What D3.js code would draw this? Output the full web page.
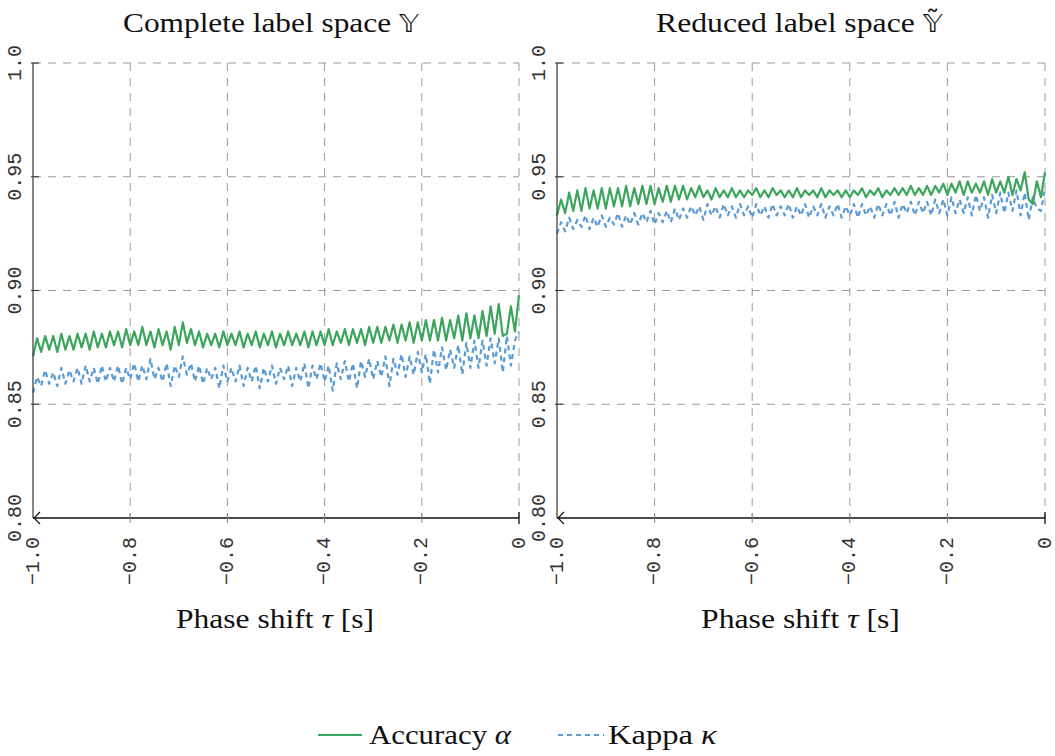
<!DOCTYPE html>
<html>
<head>
<meta charset="utf-8">
<script src="https://cdn.jsdelivr.net/npm/d3@7"></script>
<style>
  html, body { margin: 0; padding: 0; background: #fff; }
  svg { display: block; }
</style>
</head>
<body>
<svg id="chart" width="1055" height="756"></svg>
<script>
// ---------------- data ----------------
const panelTitles = ["Complete label space ", "Reduced label space "];
const xTicks = [-1.0, -0.8, -0.6, -0.4, -0.2, 0];
const xTickLabels = ["\u22121.0", "\u22120.8", "\u22120.6", "\u22120.4", "\u22120.2", "0"];
const yTicks = [0.80, 0.85, 0.90, 0.95, 1.0];
const yTickLabels = ["0.80", "0.85", "0.90", "0.95", "1.0"];
const seriesNames = ["Accuracy", "Kappa"];
// phase shift sampling grid (121 steps from -1 s to 0 s)
const phaseShift = d3.range(121).map(i => -1 + i / 120);

const accuracyComplete = [
  0.871, 0.879, 0.873, 0.880, 0.874, 0.880, 0.873, 0.881, 0.874, 0.880,
  0.874, 0.881, 0.875, 0.881, 0.874, 0.882, 0.875, 0.881, 0.875, 0.882,
  0.876, 0.882, 0.875, 0.883, 0.876, 0.882, 0.876, 0.884, 0.876, 0.882,
  0.875, 0.883, 0.876, 0.882, 0.874, 0.884, 0.876, 0.886, 0.877, 0.883,
  0.876, 0.882, 0.875, 0.881, 0.876, 0.881, 0.875, 0.882, 0.876, 0.881,
  0.876, 0.882, 0.875, 0.881, 0.876, 0.882, 0.875, 0.881, 0.876, 0.882,
  0.875, 0.881, 0.876, 0.882, 0.876, 0.881, 0.876, 0.882, 0.875, 0.882,
  0.876, 0.882, 0.876, 0.883, 0.876, 0.882, 0.877, 0.883, 0.876, 0.883,
  0.877, 0.883, 0.876, 0.884, 0.877, 0.884, 0.877, 0.884, 0.878, 0.885,
  0.877, 0.885, 0.878, 0.886, 0.877, 0.886, 0.878, 0.887, 0.878, 0.887,
  0.878, 0.888, 0.878, 0.887, 0.879, 0.889, 0.878, 0.890, 0.879, 0.889,
  0.879, 0.891, 0.880, 0.893, 0.881, 0.894, 0.880, 0.881, 0.893, 0.882, 0.898
];
const kappaComplete = [
  0.855, 0.862, 0.858, 0.865, 0.859, 0.864, 0.858, 0.866, 0.859, 0.865,
  0.860, 0.866, 0.859, 0.867, 0.860, 0.866, 0.859, 0.867, 0.860, 0.866,
  0.860, 0.867, 0.859, 0.866, 0.861, 0.868, 0.860, 0.867, 0.861, 0.870,
  0.861, 0.866, 0.860, 0.868, 0.858, 0.867, 0.862, 0.871, 0.863, 0.868,
  0.860, 0.867, 0.859, 0.866, 0.861, 0.866, 0.857, 0.867, 0.860, 0.866,
  0.860, 0.867, 0.858, 0.866, 0.860, 0.867, 0.857, 0.866, 0.860, 0.867,
  0.859, 0.866, 0.861, 0.867, 0.858, 0.866, 0.860, 0.868, 0.857, 0.867,
  0.861, 0.868, 0.860, 0.867, 0.856, 0.868, 0.861, 0.869, 0.860, 0.868,
  0.857, 0.869, 0.862, 0.870, 0.861, 0.869, 0.862, 0.871, 0.858, 0.870,
  0.863, 0.872, 0.862, 0.871, 0.863, 0.873, 0.864, 0.872, 0.859, 0.874,
  0.864, 0.875, 0.865, 0.874, 0.866, 0.876, 0.863, 0.877, 0.866, 0.878,
  0.866, 0.878, 0.867, 0.879, 0.868, 0.879, 0.864, 0.880, 0.867, 0.878, 0.882
];
const accuracyReduced = [
  0.933, 0.940, 0.934, 0.943, 0.935, 0.944, 0.935, 0.945, 0.936, 0.944,
  0.936, 0.945, 0.936, 0.945, 0.937, 0.945, 0.937, 0.946, 0.937, 0.945,
  0.938, 0.946, 0.938, 0.946, 0.938, 0.945, 0.939, 0.946, 0.939, 0.946,
  0.940, 0.946, 0.940, 0.945, 0.941, 0.946, 0.941, 0.944, 0.940, 0.945,
  0.941, 0.944, 0.941, 0.945, 0.941, 0.944, 0.941, 0.944, 0.942, 0.945,
  0.941, 0.944, 0.941, 0.945, 0.942, 0.944, 0.941, 0.944, 0.941, 0.945,
  0.941, 0.944, 0.942, 0.944, 0.941, 0.945, 0.941, 0.944, 0.942, 0.944,
  0.941, 0.944, 0.941, 0.944, 0.942, 0.945, 0.941, 0.944, 0.942, 0.945,
  0.941, 0.944, 0.942, 0.945, 0.942, 0.945, 0.942, 0.946, 0.942, 0.945,
  0.942, 0.946, 0.942, 0.946, 0.943, 0.947, 0.942, 0.947, 0.943, 0.948,
  0.942, 0.948, 0.943, 0.947, 0.943, 0.948, 0.942, 0.949, 0.943, 0.948,
  0.943, 0.950, 0.942, 0.949, 0.944, 0.952, 0.940, 0.938, 0.948, 0.941, 0.952
];
const kappaReduced = [
  0.925, 0.930, 0.926, 0.932, 0.927, 0.931, 0.928, 0.933, 0.927, 0.932,
  0.928, 0.933, 0.928, 0.932, 0.929, 0.934, 0.928, 0.933, 0.929, 0.934,
  0.929, 0.934, 0.930, 0.935, 0.929, 0.934, 0.930, 0.935, 0.930, 0.936,
  0.931, 0.936, 0.932, 0.937, 0.933, 0.937, 0.931, 0.938, 0.933, 0.937,
  0.932, 0.938, 0.933, 0.937, 0.932, 0.938, 0.933, 0.937, 0.932, 0.938,
  0.933, 0.937, 0.932, 0.938, 0.933, 0.937, 0.933, 0.938, 0.932, 0.937,
  0.933, 0.938, 0.932, 0.937, 0.933, 0.938, 0.932, 0.937, 0.933, 0.938,
  0.932, 0.937, 0.933, 0.938, 0.932, 0.938, 0.933, 0.937, 0.932, 0.938,
  0.933, 0.938, 0.933, 0.939, 0.932, 0.938, 0.934, 0.939, 0.933, 0.939,
  0.934, 0.939, 0.933, 0.940, 0.934, 0.940, 0.933, 0.941, 0.934, 0.940,
  0.934, 0.941, 0.933, 0.942, 0.935, 0.941, 0.932, 0.942, 0.934, 0.943,
  0.934, 0.943, 0.935, 0.944, 0.933, 0.943, 0.931, 0.941, 0.936, 0.935, 0.945
];

// ---------------- drawing ----------------
const svg = d3.select("#chart");
const GREEN = "#3ba55c", BLUE = "#5b9bd5";
const MONO = "'Liberation Mono', 'DejaVu Sans Mono', monospace";
const SERIF = "'Liberation Serif', 'DejaVu Serif', serif";

// stretch a text element horizontally so that it spans [left, right]
function fitText(sel, left, right) {
  const bb = sel.node().getBBox();
  const s = (right - left) / bb.width;
  sel.attr("transform", `translate(${left},0) scale(${s},1) translate(${-bb.x},0)`);
}

const panels = [
  { x0: 33, x1: 519, title: panelTitles[0], tilde: false, acc: accuracyComplete, kap: kappaComplete,
    tL: 123, tR: 420, xlL: 176, xlR: 374 },
  { x0: 557, x1: 1045, title: panelTitles[1], tilde: true, acc: accuracyReduced, kap: kappaReduced,
    tL: 656, tR: 944, xlL: 701, xlR: 900 }
];
const yTop = 63, yBot = 518;

panels.forEach(p => {
  const x = d3.scaleLinear().domain([-1, 0]).range([p.x0, p.x1]);
  const y = d3.scaleLinear().domain([0.8, 1.0]).range([yBot, yTop]);
  const g = svg.append("g");

  // grid
  g.selectAll(".hg").data(yTicks.slice(1)).join("line")
    .attr("x1", p.x0).attr("x2", p.x1)
    .attr("y1", d => y(d)).attr("y2", d => y(d))
    .attr("stroke", "#9a9a9a").attr("stroke-width", 1)
    .attr("stroke-dasharray", "8,7");
  g.selectAll(".vg").data(xTicks.slice(1)).join("line")
    .attr("x1", d => x(d)).attr("x2", d => x(d))
    .attr("y1", yTop).attr("y2", yBot)
    .attr("stroke", "#9a9a9a").attr("stroke-width", 1)
    .attr("stroke-dasharray", "8,7");

  // series
  const line = d3.line().x((d, i) => x(phaseShift[i])).y(d => y(d));
  g.append("path").datum(p.kap).attr("d", line)
    .attr("fill", "none").attr("stroke", BLUE).attr("stroke-width", 2.2)
    .attr("stroke-dasharray", "5,4").attr("stroke-linejoin", "round");
  g.append("path").datum(p.acc).attr("d", line)
    .attr("fill", "none").attr("stroke", GREEN).attr("stroke-width", 2.2)
    .attr("stroke-linejoin", "round");

  // y axis
  g.append("line").attr("x1", p.x0).attr("x2", p.x0).attr("y1", yTop).attr("y2", yBot)
    .attr("stroke", "#444").attr("stroke-width", 1.3);
  g.selectAll(".yt").data(yTicks.slice(1)).join("line")
    .attr("x1", p.x0 - 2).attr("x2", p.x0 + 6)
    .attr("y1", d => y(d)).attr("y2", d => y(d))
    .attr("stroke", "#444").attr("stroke-width", 1.2);
  g.selectAll(".yl").data(yTicks).join("text")
    .attr("transform", d => `translate(${p.x0 - 18},${y(d)}) rotate(-90)`)
    .attr("text-anchor", "middle").attr("dominant-baseline", "central")
    .attr("font-family", MONO).attr("font-size", 20).attr("fill", "#333")
    .text((d, i) => yTickLabels[i]);

  // x axis
  g.append("line").attr("x1", p.x0).attr("x2", p.x1).attr("y1", yBot).attr("y2", yBot)
    .attr("stroke", "#111").attr("stroke-width", 1.3);
  g.append("path")
    .attr("d", `M${p.x0 + 7},${yBot - 6} L${p.x0 + 1},${yBot} L${p.x0 + 7},${yBot + 6}`)
    .attr("fill", "none").attr("stroke", "#111").attr("stroke-width", 1.2);
  g.append("line").attr("x1", p.x1).attr("x2", p.x1).attr("y1", yBot - 6).attr("y2", yBot + 6)
    .attr("stroke", "#111").attr("stroke-width", 1.3);
  g.selectAll(".xt").data(xTicks.slice(1, -1)).join("line")
    .attr("x1", d => x(d)).attr("x2", d => x(d))
    .attr("y1", yBot - 5).attr("y2", yBot + 5)
    .attr("stroke", "#888").attr("stroke-width", 1);
  g.selectAll(".xl").data(xTicks).join("text")
    .attr("transform", d => `translate(${x(d)},${yBot + 19}) rotate(-90)`)
    .attr("text-anchor", "end").attr("dominant-baseline", "central")
    .attr("font-family", MONO).attr("font-size", 20).attr("fill", "#333")
    .text((d, i) => xTickLabels[i]);

  // title
  const t = svg.append("text").attr("x", 0).attr("y", 32)
    .attr("font-family", SERIF).attr("font-size", 27).attr("fill", "#111");
  t.append("tspan").text(p.title);
  t.append("tspan").attr("font-family", "'DejaVu Sans', sans-serif").attr("font-size", 24)
    .text(p.tilde ? "\uD835\uDD50\u0303" : "\uD835\uDD50");
  fitText(t, p.tL, p.tR);

  // x label
  const xl = svg.append("text").attr("x", 0).attr("y", 628)
    .attr("font-family", SERIF).attr("font-size", 27).attr("fill", "#111");
  xl.append("tspan").text("Phase shift ");
  xl.append("tspan").attr("font-style", "italic").text("\u03C4");
  xl.append("tspan").text(" [s]");
  fitText(xl, p.xlL, p.xlR);
});

// legend
const lg = svg.append("g");
lg.append("line").attr("x1", 318).attr("x2", 362).attr("y1", 735).attr("y2", 735)
  .attr("stroke", GREEN).attr("stroke-width", 2);
const l1 = lg.append("text").attr("x", 0).attr("y", 744)
  .attr("font-family", SERIF).attr("font-size", 27).attr("fill", "#111");
l1.append("tspan").text(seriesNames[0] + " ");
l1.append("tspan").attr("font-style", "italic").text("\u03B1");
fitText(l1, 369, 512);
lg.append("line").attr("x1", 558).attr("x2", 604).attr("y1", 735).attr("y2", 735)
  .attr("stroke", BLUE).attr("stroke-width", 2).attr("stroke-dasharray", "5,4");
const l2 = lg.append("text").attr("x", 0).attr("y", 744)
  .attr("font-family", SERIF).attr("font-size", 27).attr("fill", "#111");
l2.append("tspan").text(seriesNames[1] + " ");
l2.append("tspan").attr("font-style", "italic").text("\u03BA");
fitText(l2, 608, 718);
</script>
</body>
</html>
